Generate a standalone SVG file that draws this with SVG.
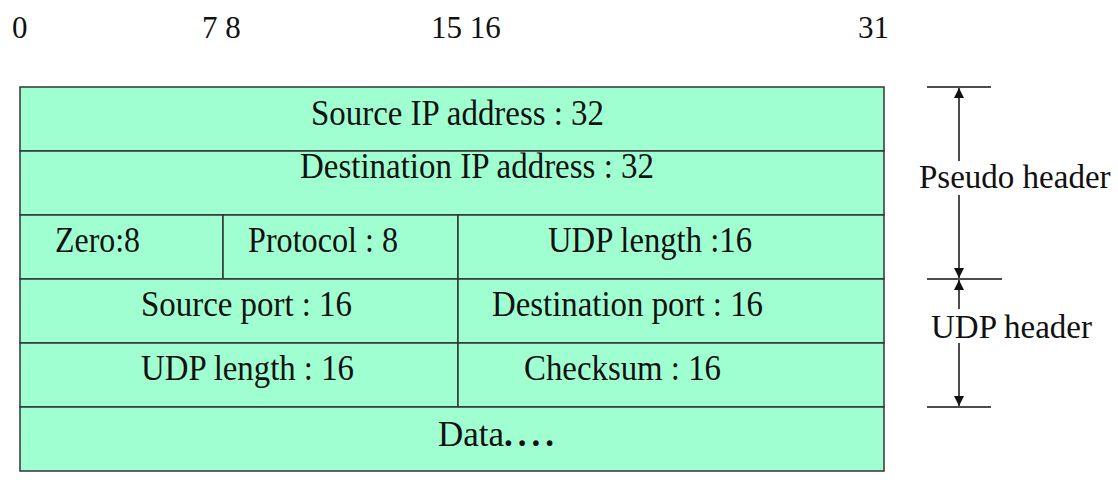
<svg xmlns="http://www.w3.org/2000/svg" width="1118" height="495" viewBox="0 0 1118 495">
<style>
.cell{fill:#a0ffd0;stroke:#333;stroke-width:1.5}
.ln{stroke:#333;stroke-width:1.5;fill:none}
.t{font-family:"Liberation Serif","Times New Roman",serif;font-size:35px;fill:#111}
.n{font-family:"Liberation Serif","Times New Roman",serif;font-size:31px;fill:#111}
.r{font-family:"Liberation Serif","Times New Roman",serif;font-size:33px;fill:#111}
.dim{stroke:#111;stroke-width:1.5;fill:none}
</style>
<defs>
<marker id="ah" viewBox="0 0 10 10" refX="10" refY="5" markerWidth="11" markerHeight="10" markerUnits="userSpaceOnUse" orient="auto">
<path d="M0,0 L10,5 L0,10 z" fill="#111"/>
</marker>
</defs>
<g id="bit-labels">
<text class="n" x="12" y="38">0</text>
<text class="n" x="202" y="38">7 8</text>
<text class="n" x="431" y="38">15 16</text>
<text class="n" x="858" y="38">31</text>
</g>
<g id="row-src-ip">
<rect class="cell" x="20" y="87" width="864" height="64"/>
<text class="t" x="311" y="125" textLength="293" lengthAdjust="spacingAndGlyphs">Source IP address : 32</text>
</g>
<g id="row-dst-ip">
<rect class="cell" x="20" y="151" width="864" height="64"/>
<text class="t" x="300" y="178" textLength="354" lengthAdjust="spacingAndGlyphs">Destination IP address : 32</text>
</g>
<g id="zero">
<rect class="cell" x="20" y="215" width="203" height="64"/>
<text class="t" x="55" y="252" textLength="85" lengthAdjust="spacingAndGlyphs">Zero:8</text>
</g>
<g id="protocol">
<rect class="cell" x="223" y="215" width="235" height="64"/>
<text class="t" x="248" y="252" textLength="150" lengthAdjust="spacingAndGlyphs">Protocol : 8</text>
</g>
<g id="udp-length-pseudo">
<rect class="cell" x="458" y="215" width="426" height="64"/>
<text class="t" x="548" y="252" textLength="204" lengthAdjust="spacingAndGlyphs">UDP length :16</text>
</g>
<g id="src-port">
<rect class="cell" x="20" y="279" width="438" height="64"/>
<text class="t" x="141" y="316" textLength="211" lengthAdjust="spacingAndGlyphs">Source port : 16</text>
</g>
<g id="dst-port">
<rect class="cell" x="458" y="279" width="426" height="64"/>
<text class="t" x="492" y="316" textLength="271" lengthAdjust="spacingAndGlyphs">Destination port : 16</text>
</g>
<g id="udp-length">
<rect class="cell" x="20" y="343" width="438" height="64"/>
<text class="t" x="141" y="380" textLength="213" lengthAdjust="spacingAndGlyphs">UDP length : 16</text>
</g>
<g id="checksum">
<rect class="cell" x="458" y="343" width="426" height="64"/>
<text class="t" x="524" y="380" textLength="197" lengthAdjust="spacingAndGlyphs">Checksum : 16</text>
</g>
<g id="data">
<rect class="cell" x="20" y="407" width="864" height="64"/>
<text class="t" x="438" y="446">Data<tspan font-weight="bold" letter-spacing="5">....</tspan></text>
</g>
<g id="connectors">
<line class="dim" x1="927" y1="87" x2="991" y2="87"/>
<line class="dim" x1="927" y1="279" x2="1002" y2="279"/>
<line class="dim" x1="927" y1="407" x2="991" y2="407"/>
<line class="dim" x1="959" y1="161" x2="959" y2="88" marker-end="url(#ah)"/>
<line class="dim" x1="959" y1="195" x2="959" y2="278" marker-end="url(#ah)"/>
<line class="dim" x1="959" y1="309" x2="959" y2="280" marker-end="url(#ah)"/>
<line class="dim" x1="959" y1="343" x2="959" y2="406" marker-end="url(#ah)"/>
</g>
<g id="pseudo-label">
<text class="r" x="919" y="188">Pseudo header</text>
</g>
<g id="udp-label">
<text class="r" x="931" y="338">UDP header</text>
</g>
</svg>
